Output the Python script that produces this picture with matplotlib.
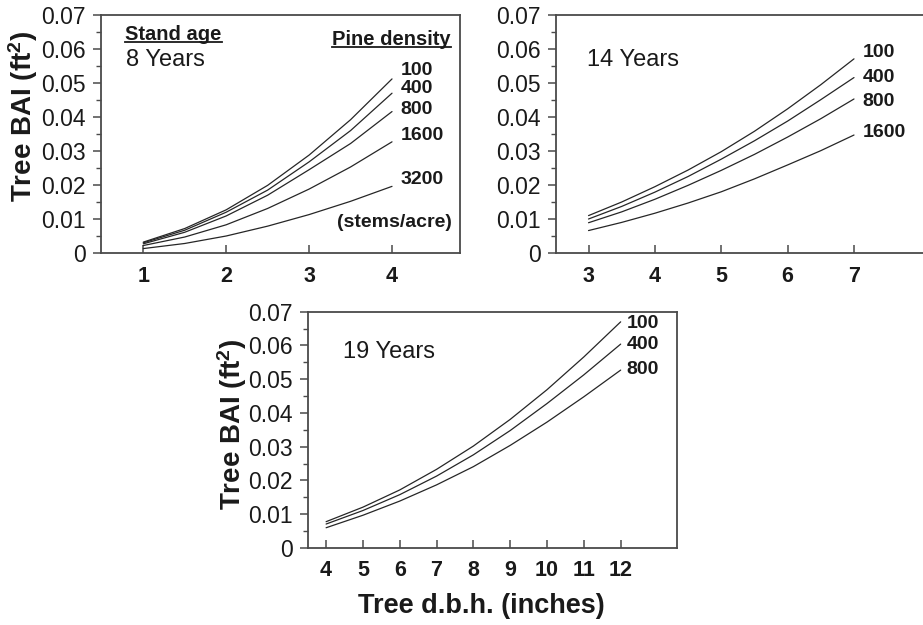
import matplotlib
matplotlib.use("Agg")
import matplotlib.pyplot as plt
from matplotlib.lines import Line2D
from matplotlib.ticker import MultipleLocator, FixedLocator, FixedFormatter

plt.rcParams['font.family'] = ['Liberation Sans', 'DejaVu Sans']
plt.rcParams['mathtext.fontset'] = 'custom'
plt.rcParams['mathtext.rm'] = 'Liberation Sans'

# --- data ---
# stand age 8 years
dbh_8 = [1, 1.5, 2, 2.5, 3, 3.5, 4]
bai_8_100 = [0.0032, 0.0072, 0.0127, 0.0199, 0.0288, 0.0392, 0.0512]
bai_8_400 = [0.0030, 0.0067, 0.0120, 0.0185, 0.0268, 0.0360, 0.0470]
bai_8_800 = [0.0027, 0.0061, 0.0109, 0.0170, 0.0245, 0.0322, 0.0416]
bai_8_1600 = [0.0022, 0.0047, 0.0083, 0.0131, 0.0188, 0.0253, 0.0327]
bai_8_3200 = [0.0013, 0.0028, 0.0050, 0.0079, 0.0113, 0.0152, 0.0196]

# stand age 14 years
dbh_14 = [3, 3.5, 4, 4.5, 5, 5.5, 6, 6.5, 7]
bai_14_100 = [0.0110, 0.0150, 0.0195, 0.0244, 0.0298, 0.0358, 0.0424, 0.0495, 0.0571]
bai_14_400 = [0.0100, 0.0137, 0.0179, 0.0225, 0.0276, 0.0330, 0.0388, 0.0451, 0.0516]
bai_14_800 = [0.0089, 0.0121, 0.0158, 0.0199, 0.0243, 0.0290, 0.0341, 0.0395, 0.0453]
bai_14_1600 = [0.0066, 0.0090, 0.0117, 0.0147, 0.0180, 0.0218, 0.0259, 0.0301, 0.0347]

# stand age 19 years
dbh_19 = [4, 5, 6, 7, 8, 9, 10, 11, 12]
bai_19_100 = [0.0078, 0.0121, 0.0172, 0.0233, 0.0302, 0.0381, 0.0469, 0.0566, 0.0670]
bai_19_400 = [0.0071, 0.0111, 0.0158, 0.0213, 0.0276, 0.0348, 0.0428, 0.0513, 0.0604]
bai_19_800 = [0.0060, 0.0097, 0.0139, 0.0187, 0.0241, 0.0304, 0.0373, 0.0448, 0.0527]

density_8 = ["100", "400", "800", "1600", "3200"]
density_14 = ["100", "400", "800", "1600"]
density_19 = ["100", "400", "800"]

ytick_vals = [0, 0.01, 0.02, 0.03, 0.04, 0.05, 0.06, 0.07]
ytick_labels = ["0", "0.01", "0.02", "0.03", "0.04", "0.05", "0.06", "0.07"]

# label placement (data coords of left/center of curve labels)
lab_x_8, lab_y_8 = 4.1, [0.0538, 0.0485, 0.0421, 0.0347, 0.0215]
lab_x_14, lab_y_14 = 7.13, [0.0591, 0.0515, 0.0447, 0.0353]
lab_x_19, lab_y_19 = 12.16, [0.0666, 0.0604, 0.0530]

TXT = '#1a1a1a'
LINE = '#262626'
SPINE = '#4a4a4a'

W, H = 923, 625
fig = plt.figure(figsize=(W / 100, H / 100), dpi=100)
fig.patch.set_facecolor('white')


def pax(l, t, r, b):
    return fig.add_axes([l / W, 1 - b / H, (r - l) / W, (b - t) / H])


ax1 = pax(101, 15, 460, 253)
ax2 = pax(556, 15, 927, 253)
ax3 = pax(307.7, 311.7, 677, 548)


def style(ax, xlim, xticks):
    ax.set_xlim(*xlim)
    ax.set_ylim(0, 0.07)
    ax.xaxis.set_major_locator(FixedLocator(xticks))
    ax.yaxis.set_major_locator(FixedLocator(ytick_vals))
    ax.yaxis.set_major_formatter(FixedFormatter(ytick_labels))
    ax.yaxis.set_minor_locator(MultipleLocator(0.005))
    ax.tick_params(axis='y', which='major', direction='out', length=6, width=1.1,
                   color=SPINE, labelsize=16.5, labelcolor=TXT, pad=5)
    ax.tick_params(axis='y', which='minor', direction='out', length=3.5, width=1.0,
                   color=SPINE)
    ax.tick_params(axis='x', which='major', direction='in', length=6, width=1.1,
                   color=SPINE, labelsize=15.5, labelcolor=TXT, pad=9)
    for lab in ax.get_xticklabels():
        lab.set_fontweight('bold')
    for s in ax.spines.values():
        s.set_color(SPINE)
        s.set_linewidth(1.3)


def curves(ax, x, series, names, lx, ly):
    for ys, name, yy in zip(series, names, ly):
        ax.plot(x, ys, color=LINE, lw=0.9, solid_capstyle='round',
                solid_joinstyle='round')
        ax.text(lx, yy, name, fontsize=14, fontweight='bold', color=TXT,
                ha='left', va='center', clip_on=False)


style(ax1, (0.49, 4.82), [1, 2, 3, 4])
curves(ax1, dbh_8, [bai_8_100, bai_8_400, bai_8_800, bai_8_1600, bai_8_3200],
       density_8, lab_x_8, lab_y_8)
t_stand = ax1.text(0.068, 0.916, "Stand age", transform=ax1.transAxes, fontsize=14.5,
                   fontweight='bold', color=TXT, ha='left', va='center')
ax1.text(0.07, 0.811, "8 Years", transform=ax1.transAxes, fontsize=17,
         color=TXT, ha='left', va='center')
t_pine = ax1.text(0.975, 0.895, "Pine density", transform=ax1.transAxes, fontsize=14.5,
                  fontweight='bold', color=TXT, ha='right', va='center')
ax1.text(0.978, 0.13, "(stems/acre)", transform=ax1.transAxes, fontsize=14,
         fontweight='bold', color=TXT, ha='right', va='center')

style(ax2, (2.51, 8.1), [3, 4, 5, 6, 7])
curves(ax2, dbh_14, [bai_14_100, bai_14_400, bai_14_800, bai_14_1600],
       density_14, lab_x_14, lab_y_14)
ax2.text(0.084, 0.811, "14 Years", transform=ax2.transAxes, fontsize=17,
         color=TXT, ha='left', va='center')

style(ax3, (3.5, 13.53), [4, 5, 6, 7, 8, 9, 10, 11, 12])
curves(ax3, dbh_19, [bai_19_100, bai_19_400, bai_19_800],
       density_19, lab_x_19, lab_y_19)
ax3.text(0.096, 0.829, "19 Years", transform=ax3.transAxes, fontsize=17,
         color=TXT, ha='left', va='center')

ylab = "Tree BAI (ft$\\mathregular{^2}$)"
fig.text(23 / W, 1 - 116 / H, ylab, rotation=90, fontsize=20, fontweight='bold',
         color=TXT, ha='center', va='center')
fig.text(232 / W, 1 - 424 / H, ylab, rotation=90, fontsize=20, fontweight='bold',
         color=TXT, ha='center', va='center')
fig.text(481 / W, 1 - 606 / H, "Tree d.b.h. (inches)", fontsize=19.5,
         fontweight='bold', color=TXT, ha='center', va='center')

# underline the two headers
fig.canvas.draw()
r = fig.canvas.get_renderer()
for t in (t_stand, t_pine):
    bb = t.get_window_extent(r)
    yl = bb.y0 + 0.14 * bb.height
    fig.add_artist(Line2D([bb.x0 / W, bb.x1 / W], [yl / H, yl / H],
                          transform=fig.transFigure, color=TXT, lw=1.3))

fig.savefig("out.png", dpi=100)
